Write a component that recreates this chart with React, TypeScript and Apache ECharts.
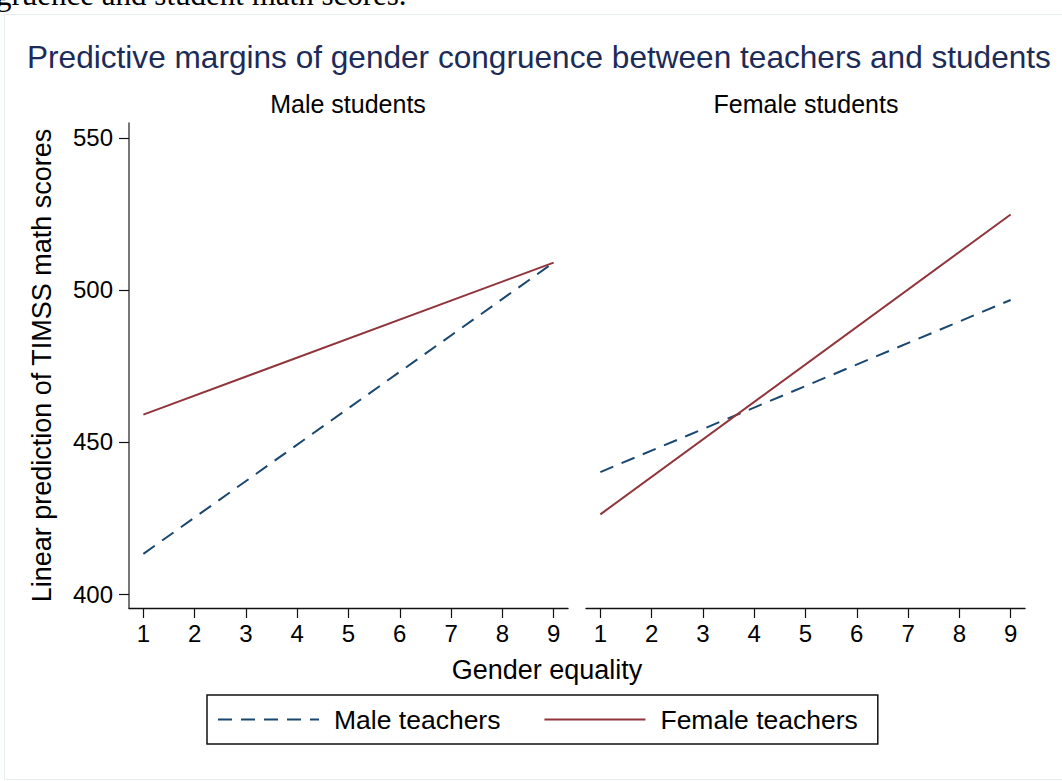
import React, { useEffect, useRef } from "react";
import * as echarts from "echarts";

const xTicks = [1, 2, 3, 4, 5, 6, 7, 8, 9];
const yTicks = [400, 450, 500, 550];
const xEnds = [1, 9];
const maleStudentsMaleTeachers = [413.2, 509.0];
const maleStudentsFemaleTeachers = [459.0, 509.0];
const femaleStudentsMaleTeachers = [440.1, 496.7];
const femaleStudentsFemaleTeachers = [426.2, 524.8];
const panelTitles = ["Male students", "Female students"];
const seriesNames = ["Male teachers", "Female teachers"];

const BLUE = "#1a476f";
const RED = "#90353b";
const FONT = "Liberation Sans, Arial, Helvetica, sans-serif";

const pairs = (vals: number[]) => xEnds.map((x, i) => [x, vals[i]]);

export default function App() {
  const ref = useRef<HTMLDivElement>(null);
  useEffect(() => {
    if (!ref.current) return;
    const chart = echarts.init(ref.current, null, { renderer: "svg" });
    const xAxisBase = (gridIndex: number) => ({
      type: "value",
      gridIndex,
      min: 0.72,
      max: 9.28,
      splitLine: { show: false },
      axisLine: { show: true, lineStyle: { color: "#111", width: 1.4 } },
      axisTick: { show: true, length: 10, customValues: xTicks, lineStyle: { color: "#111", width: 1.2 } },
      axisLabel: { customValues: xTicks, margin: 13, fontSize: 24, color: "#000", fontFamily: FONT },
    });
    const lineSeries = (name: string, vals: number[], idx: number, dashed: boolean) => ({
      type: "line",
      name,
      xAxisIndex: idx,
      yAxisIndex: idx,
      data: pairs(vals),
      symbol: "none",
      lineStyle: {
        color: dashed ? BLUE : RED,
        width: 2,
        type: dashed ? [14, 9] : "solid",
      },
      itemStyle: { color: dashed ? BLUE : RED },
    });
    chart.setOption({
      animation: false,
      backgroundColor: "#fff",
      grid: [
        { left: 129, top: 123, width: 439, height: 485 },
        { left: 586, top: 123, width: 439, height: 485 },
      ],
      xAxis: [xAxisBase(0), xAxisBase(1)],
      yAxis: [
        {
          type: "value",
          gridIndex: 0,
          min: 395.4,
          max: 554.9,
          splitLine: { show: false },
          axisLine: { show: true, lineStyle: { color: "#555", width: 1.6 } },
          axisTick: { show: true, length: 10, customValues: yTicks, lineStyle: { color: "#111", width: 1.2 } },
          axisLabel: { customValues: yTicks, margin: 16, fontSize: 24, color: "#000", fontFamily: FONT },
          name: "Linear prediction of TIMSS math scores",
          nameLocation: "middle",
          nameGap: 74,
          nameRotate: 90,
          nameTextStyle: { fontSize: 27, color: "#000", fontFamily: FONT },
        },
        {
          type: "value",
          gridIndex: 1,
          min: 395.4,
          max: 554.9,
          show: false,
        },
      ],
      legend: {
        left: 207,
        top: 695,
        data: seriesNames,
        orient: "horizontal",
        borderColor: "#111",
        borderWidth: 1.5,
        padding: [11, 20, 11, 10],
        itemWidth: 101,
        itemHeight: 14,
        itemGap: 43,
        itemStyle: { opacity: 0 },
        textStyle: { fontSize: 26.5, color: "#000", fontFamily: FONT, padding: [0, 0, 0, 10], lineHeight: 26 },
      },
      graphic: [
        {
          type: "rect",
          silent: true,
          shape: { x: 4.5, y: 14.5, width: 1100, height: 765 },
          style: { fill: "none", stroke: "#e6eded", lineWidth: 1 },
        },
        {
          type: "text",
          x: -4,
          y: 10,
          style: {
            text: "gruence and student math scores.",
            font: "31px 'Liberation Serif', 'Times New Roman', serif",
            fill: "#000",
            verticalAlign: "bottom",
          },
        },
        {
          type: "text",
          x: 27,
          y: 57,
          style: {
            text: "Predictive margins of gender congruence between teachers and students",
            font: `31.6px ${FONT}`,
            fill: "#1c2b58",
            verticalAlign: "middle",
          },
        },
        {
          type: "text",
          x: 348,
          y: 104,
          style: { text: panelTitles[0], font: `25px ${FONT}`, fill: "#000", align: "center", verticalAlign: "middle" },
        },
        {
          type: "text",
          x: 806,
          y: 104,
          style: { text: panelTitles[1], font: `25px ${FONT}`, fill: "#000", align: "center", verticalAlign: "middle" },
        },
        {
          type: "text",
          x: 547,
          y: 670,
          style: { text: "Gender equality", font: `27px ${FONT}`, fill: "#000", align: "center", verticalAlign: "middle" },
        },
      ],
      series: [
        lineSeries(seriesNames[0], maleStudentsMaleTeachers, 0, true),
        lineSeries(seriesNames[1], maleStudentsFemaleTeachers, 0, false),
        lineSeries(seriesNames[0], femaleStudentsMaleTeachers, 1, true),
        lineSeries(seriesNames[1], femaleStudentsFemaleTeachers, 1, false),
      ],
    });
    return () => chart.dispose();
  }, []);
  return (
    <div
      ref={ref}
      style={{ position: "fixed", left: 0, top: 0, width: 1062, height: 781, background: "#fff" }}
    />
  );
}
